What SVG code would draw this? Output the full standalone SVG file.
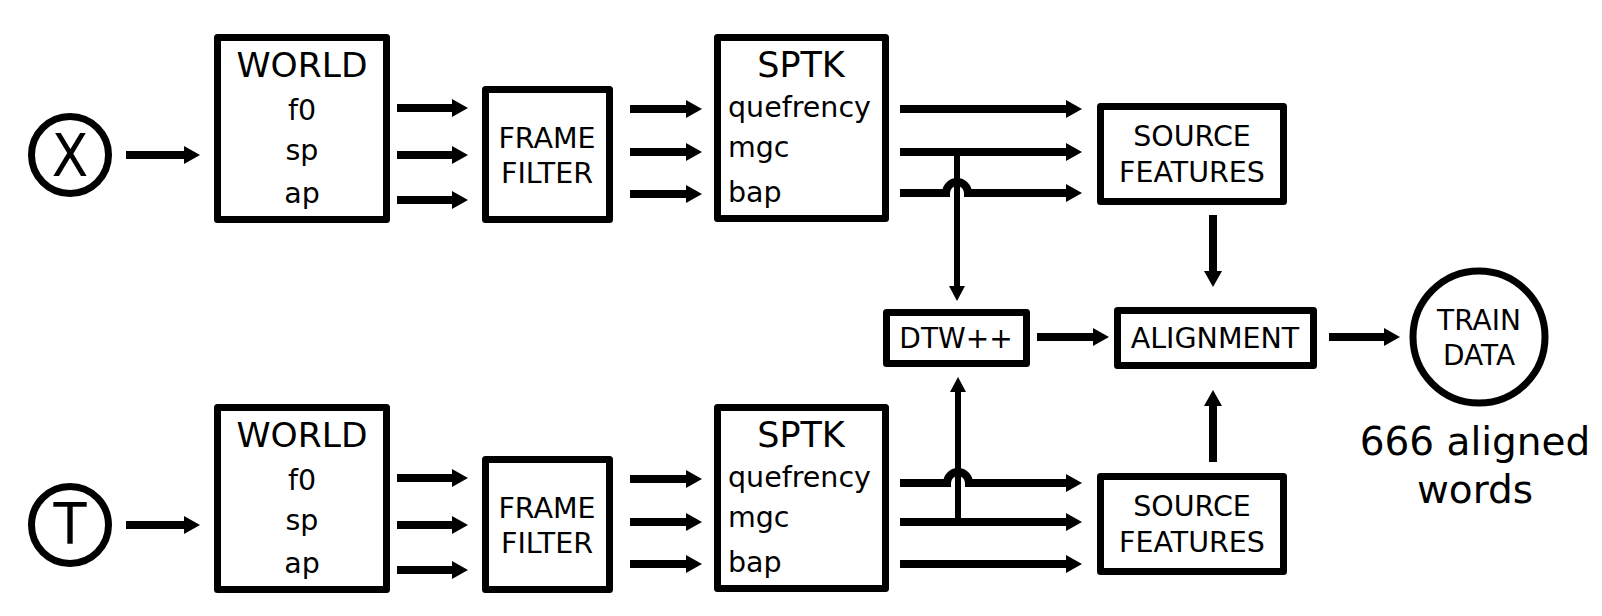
<svg xmlns="http://www.w3.org/2000/svg" width="1602" height="616" viewBox="0 0 1602 616">
<defs>
<marker id="ah" viewBox="0 0 16 18" refX="1" refY="9" markerWidth="16" markerHeight="18" markerUnits="userSpaceOnUse" orient="auto"><path d="M0,0 L16,9 L0,18 z" fill="#000"/></marker>
<marker id="ahs" viewBox="0 0 15 16" refX="1" refY="8" markerWidth="15" markerHeight="16" markerUnits="userSpaceOnUse" orient="auto"><path d="M0,0 L15,8 L0,16 z" fill="#000"/></marker>
<style>
.box{fill:#fff;stroke:#000;stroke-width:7;stroke-linejoin:round}
.circ{fill:#fff;stroke:#000;stroke-width:7}
.t{font-family:"DejaVu Sans","Verdana",sans-serif;fill:#000;text-anchor:middle}
.tl{font-family:"DejaVu Sans","Verdana",sans-serif;fill:#000;text-anchor:start}
.big{font-size:34.5px}
.mid{font-size:28.5px}
.a{fill:none;stroke:#000;stroke-width:8;marker-end:url(#ah)}
.vs{fill:none;stroke:#000;stroke-width:6;marker-end:url(#ahs)}
</style>
</defs>
<rect width="1602" height="616" fill="#fff"/>
<g id="connectors">
<path class="a" d="M126,155 H185"/>
<path class="a" d="M397,108 H453"/>
<path class="a" d="M397,155 H453"/>
<path class="a" d="M397,200 H453"/>
<path class="a" d="M630,109 H687"/>
<path class="a" d="M630,152 H687"/>
<path class="a" d="M630,194 H687"/>
<path class="a" d="M900,109 H1067"/>
<path class="a" d="M900,152 H1067"/>
<path class="a" d="M900,193 H946 A11,11 0 0 1 968,193 H1067"/>
<path class="vs" d="M957,152 V287"/>
<path class="a" d="M1213,215 V272"/>
<path class="a" d="M1037,337 H1094"/>
<path class="a" d="M1329,337 H1385"/>
<path class="a" d="M126,525 H185"/>
<path class="a" d="M397,478 H453"/>
<path class="a" d="M397,525 H453"/>
<path class="a" d="M397,570 H453"/>
<path class="a" d="M630,479 H687"/>
<path class="a" d="M630,522 H687"/>
<path class="a" d="M630,564 H687"/>
<path class="a" d="M900,483 H947 A11,11 0 0 1 969,483 H1067"/>
<path class="a" d="M900,522 H1067"/>
<path class="a" d="M900,564 H1067"/>
<path class="vs" d="M958,522 V391"/>
<path class="a" d="M1213,462 V405"/>
</g>
<g id="nodeX">
<circle class="circ" cx="70" cy="155" r="38.5"/>
<text class="t" transform="translate(70,176) scale(0.92,1)" x="0" y="0" style="font-size:58px">X</text>
</g>
<g id="world1">
<rect class="box" x="217.5" y="37.5" width="169" height="182"/>
<text class="t big" x="302" y="77">WORLD</text>
<text class="t mid" x="302" y="120">f0</text>
<text class="t mid" x="302" y="160">sp</text>
<text class="t mid" x="302" y="203">ap</text>
</g>
<g id="frame1">
<rect class="box" x="485.5" y="89.5" width="124" height="130"/>
<text class="t mid" x="547" y="148">FRAME</text>
<text class="t mid" x="547" y="183">FILTER</text>
</g>
<g id="sptk1">
<rect class="box" x="717.5" y="37.5" width="168" height="181"/>
<text class="t" x="801" y="77" style="font-size:35px">SPTK</text>
<text class="tl mid" x="728" y="117">quefrency</text>
<text class="tl mid" x="728" y="157">mgc</text>
<text class="tl mid" x="728" y="202">bap</text>
</g>
<g id="source1">
<rect class="box" x="1100.5" y="106.5" width="183" height="95"/>
<text class="t mid" x="1192" y="146">SOURCE</text>
<text class="t mid" x="1192" y="182">FEATURES</text>
</g>
<g id="dtw">
<rect class="box" x="886.5" y="312.5" width="140" height="51"/>
<text class="t" x="956" y="348" style="font-size:28px">DTW++</text>
</g>
<g id="alignment">
<rect class="box" x="1117.5" y="310.5" width="196" height="55"/>
<text class="t mid" x="1215" y="348">ALIGNMENT</text>
</g>
<g id="traindata">
<circle class="circ" cx="1479" cy="337" r="66"/>
<text class="t" x="1479" y="330" style="font-size:28px">TRAIN</text>
<text class="t" x="1479" y="365" style="font-size:28px">DATA</text>
<text class="t" x="1475" y="455" style="font-size:39px">666 aligned</text>
<text class="t" x="1475" y="503" style="font-size:39px">words</text>
</g>
<g id="nodeT">
<circle class="circ" cx="70" cy="525" r="38.5"/>
<text class="t" transform="translate(70,544) scale(0.95,1)" x="0" y="0" style="font-size:57px">T</text>
</g>
<g id="world2">
<rect class="box" x="217.5" y="407.5" width="169" height="182"/>
<text class="t big" x="302" y="447">WORLD</text>
<text class="t mid" x="302" y="490">f0</text>
<text class="t mid" x="302" y="530">sp</text>
<text class="t mid" x="302" y="573">ap</text>
</g>
<g id="frame2">
<rect class="box" x="485.5" y="459.5" width="124" height="130"/>
<text class="t mid" x="547" y="518">FRAME</text>
<text class="t mid" x="547" y="553">FILTER</text>
</g>
<g id="sptk2">
<rect class="box" x="717.5" y="407.5" width="168" height="181"/>
<text class="t" x="801" y="447" style="font-size:35px">SPTK</text>
<text class="tl mid" x="728" y="487">quefrency</text>
<text class="tl mid" x="728" y="527">mgc</text>
<text class="tl mid" x="728" y="572">bap</text>
</g>
<g id="source2">
<rect class="box" x="1100.5" y="476.5" width="183" height="95"/>
<text class="t mid" x="1192" y="516">SOURCE</text>
<text class="t mid" x="1192" y="552">FEATURES</text>
</g>
</svg>
